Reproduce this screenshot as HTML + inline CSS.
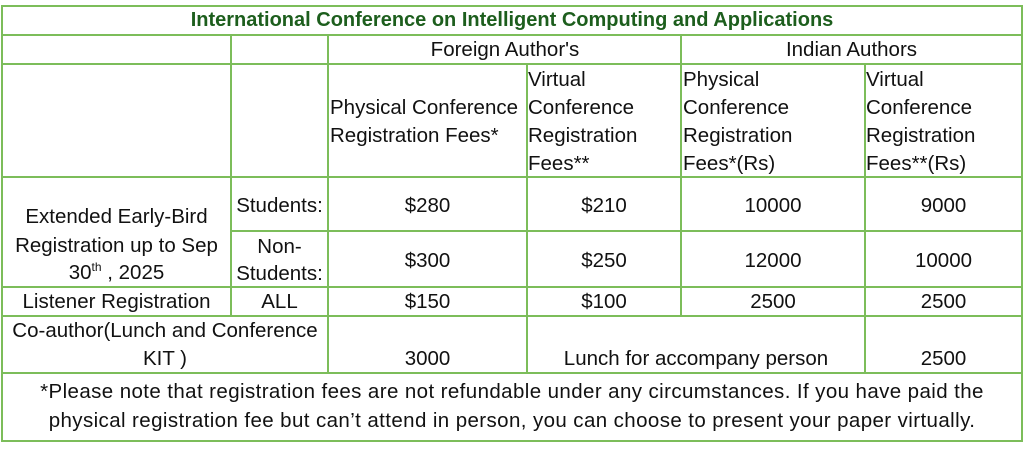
<!DOCTYPE html>
<html><head><style>
body{margin:0;width:1024px;height:450px;background:#fff;position:relative;overflow:hidden;font-family:"Liberation Sans",sans-serif;color:#111;}
.h{position:absolute;height:2px;background:#7cbd5a;}
.v{position:absolute;width:2px;background:#7cbd5a;}
.t{position:absolute;height:28px;line-height:28px;font-size:20.5px;white-space:nowrap;}
.c{text-align:center;}
sup{font-size:12px;line-height:0;position:relative;top:-8px;vertical-align:baseline;}
</style></head><body>
<div class="h" style="left:2px;width:1021px;top:5px"></div>
<div class="h" style="left:2px;width:1021px;top:34px"></div>
<div class="h" style="left:2px;width:1021px;top:63px"></div>
<div class="h" style="left:2px;width:1021px;top:176px"></div>
<div class="h" style="left:231px;width:792px;top:230px"></div>
<div class="h" style="left:2px;width:1021px;top:286px"></div>
<div class="h" style="left:2px;width:1021px;top:315px"></div>
<div class="h" style="left:2px;width:1021px;top:372px"></div>
<div class="h" style="left:2px;width:1021px;top:440px"></div>
<div class="v" style="left:1px;top:5px;height:437px"></div>
<div class="v" style="left:1021px;top:5px;height:437px"></div>
<div class="v" style="left:230px;top:34px;height:282px"></div>
<div class="v" style="left:327px;top:34px;height:340px"></div>
<div class="v" style="left:526px;top:64px;height:310px"></div>
<div class="v" style="left:680px;top:34px;height:282px"></div>
<div class="v" style="left:864px;top:64px;height:310px"></div>

<div class="t c" style="left:2px;width:1020px;top:6px;font-weight:bold;color:#1d5e1d;font-size:20px">International Conference on Intelligent Computing and Applications</div>
<div class="t c" style="left:329px;width:352px;top:36px">Foreign Author's</div>
<div class="t c" style="left:681px;width:341px;top:36px">Indian Authors</div>

<div class="t" style="left:330px;top:94px">Physical Conference</div>
<div class="t" style="left:330px;top:122px">Registration Fees*</div>
<div class="t" style="left:528px;top:66px">Virtual</div>
<div class="t" style="left:528px;top:94px">Conference</div>
<div class="t" style="left:528px;top:122px">Registration</div>
<div class="t" style="left:528px;top:150px">Fees**</div>
<div class="t" style="left:683px;top:66px">Physical</div>
<div class="t" style="left:683px;top:94px">Conference</div>
<div class="t" style="left:683px;top:122px">Registration</div>
<div class="t" style="left:683px;top:150px">Fees*(Rs)</div>
<div class="t" style="left:866px;top:66px">Virtual</div>
<div class="t" style="left:866px;top:94px">Conference</div>
<div class="t" style="left:866px;top:122px">Registration</div>
<div class="t" style="left:866px;top:150px">Fees**(Rs)</div>

<div class="t c" style="left:2px;width:229px;top:203px">Extended Early-Bird</div>
<div class="t c" style="left:2px;width:229px;top:232px">Registration up to Sep</div>
<div class="t c" style="left:2px;width:229px;top:259px">30<sup>th</sup> , 2025</div>
<div class="t c" style="left:231px;width:97px;top:192px">Students:</div>
<div class="t c" style="left:231px;width:97px;top:233px">Non-</div>
<div class="t c" style="left:231px;width:97px;top:260px">Students:</div>

<div class="t c" style="left:328px;width:199px;top:192px">$280</div>
<div class="t c" style="left:527px;width:154px;top:192px">$210</div>
<div class="t c" style="left:681px;width:184px;top:192px">10000</div>
<div class="t c" style="left:865px;width:157px;top:192px">9000</div>

<div class="t c" style="left:328px;width:199px;top:247px">$300</div>
<div class="t c" style="left:527px;width:154px;top:247px">$250</div>
<div class="t c" style="left:681px;width:184px;top:247px">12000</div>
<div class="t c" style="left:865px;width:157px;top:247px">10000</div>

<div class="t c" style="left:2px;width:229px;top:288px">Listener Registration</div>
<div class="t c" style="left:231px;width:97px;top:288px">ALL</div>
<div class="t c" style="left:328px;width:199px;top:288px">$150</div>
<div class="t c" style="left:527px;width:154px;top:288px">$100</div>
<div class="t c" style="left:681px;width:184px;top:288px">2500</div>
<div class="t c" style="left:865px;width:157px;top:288px">2500</div>

<div class="t c" style="left:2px;width:326px;top:317px">Co-author(Lunch and Conference</div>
<div class="t c" style="left:2px;width:326px;top:345px">KIT )</div>
<div class="t c" style="left:328px;width:199px;top:345px">3000</div>
<div class="t c" style="left:527px;width:338px;top:345px">Lunch for accompany person</div>
<div class="t c" style="left:865px;width:157px;top:345px">2500</div>

<div class="t c" style="left:2px;width:1020px;top:378px;letter-spacing:0.4px">*Please note that registration fees are not refundable under any circumstances. If you have paid the</div>
<div class="t c" style="left:2px;width:1020px;top:407px;letter-spacing:0.4px">physical registration fee but can’t attend in person, you can choose to present your paper virtually.</div>
</body></html>
